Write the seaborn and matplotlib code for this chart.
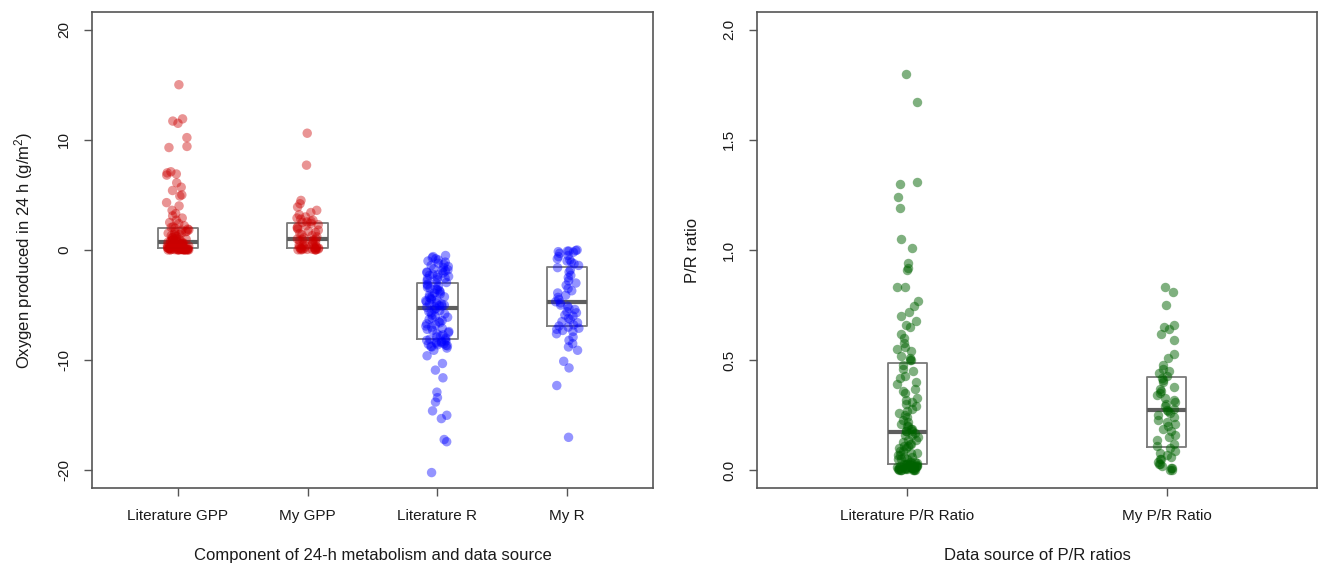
import numpy as np
import pandas as pd
import matplotlib
matplotlib.use("Agg")
import matplotlib.pyplot as plt
import seaborn as sns

# ---------------- data ----------------
components = ["Literature GPP", "My GPP", "Literature R", "My R"]
pr_sources = ["Literature P/R Ratio", "My P/R Ratio"]

lit_gpp = [15.0, 11.9, 11.7, 11.5, 10.2, 9.4, 9.3, 7.1, 7.0, 6.9, 6.8, 6.1, 5.7, 5.4,
           5.0, 4.9, 4.3, 4.0, 3.6, 3.3, 3.1, 2.9, 2.7, 2.5, 2.4, 2.2, 2.1,
           2.05, 1.97, 1.9, 1.83, 1.8, 1.71, 1.66, 1.6, 1.52, 1.5, 1.43, 1.38, 1.3, 1.27,
           1.2, 1.13, 1.1, 1.02, 0.98, 0.95, 0.9, 0.86, 0.83, 0.8, 0.77, 0.74, 0.71, 0.69,
           0.68, 0.66, 0.63, 0.6, 0.58, 0.55, 0.53, 0.5, 0.47, 0.45, 0.43, 0.4, 0.38, 0.36,
           0.33, 0.31, 0.3, 0.28, 0.26, 0.24, 0.22, 0.2, 0.19, 0.17, 0.16, 0.15, 0.14,
           0.14, 0.13, 0.12, 0.11, 0.1, 0.1, 0.09, 0.08, 0.08, 0.07, 0.06, 0.06, 0.05, 0.05,
           0.04, 0.04, 0.03, 0.03, 0.02, 0.02, 0.02, 0.01, 0.01, 0.01, 0.0, 0.0, 0.0, 0.0]
my_gpp = [10.6, 7.7, 4.5, 4.2, 3.9, 3.6, 3.4, 3.2, 3.0, 2.9, 2.8, 2.7, 2.6, 2.55, 2.5,
          2.4, 2.3, 2.2, 2.1, 2.0, 1.9, 1.8, 1.7, 1.6, 1.5, 1.4, 1.3, 1.2, 1.1, 1.0,
          1.0, 0.95, 0.9, 0.85, 0.8, 0.72, 0.65, 0.6, 0.52, 0.45, 0.4, 0.35, 0.3, 0.25, 0.2,
          0.2, 0.18, 0.16, 0.14, 0.12, 0.1, 0.09, 0.07, 0.06, 0.05, 0.04, 0.03, 0.02, 0.01, 0.0]
lit_r = [-0.5, -0.6, -0.7, -0.8, -0.9, -1.0, -1.1, -1.2, -1.3, -1.4, -1.5, -1.6, -1.7,
         -1.8, -1.85, -1.9, -2.0, -2.05, -2.1, -2.2, -2.25, -2.3, -2.4, -2.5, -2.55, -2.6,
         -2.7, -2.8, -2.95,
         -3.0, -3.1, -3.2, -3.3, -3.4, -3.5, -3.55, -3.6, -3.7, -3.8, -3.9, -4.0, -4.1,
         -4.2, -4.25, -4.3, -4.4, -4.5, -4.55, -4.6, -4.7, -4.8, -4.85, -4.9, -5.0, -5.05,
         -5.1, -5.15, -5.2,
         -5.3, -5.4, -5.5, -5.6, -5.7, -5.8, -5.9, -6.0, -6.1, -6.2, -6.3, -6.4, -6.5,
         -6.6, -6.7, -6.8, -6.9, -7.0, -7.1, -7.2, -7.3, -7.4, -7.5, -7.6, -7.7, -7.8,
         -7.9, -8.0, -8.1,
         -8.15, -8.2, -8.25, -8.3, -8.35, -8.4, -8.45, -8.5, -8.55, -8.6, -8.65, -8.7,
         -8.75, -8.8, -8.9,
         -9.1, -9.6, -10.3, -10.9, -11.6, -12.9, -13.4, -13.8, -14.6, -15.0, -15.3,
         -17.2, -17.4, -20.2]
my_r = [0.0, -0.05, -0.1, -0.1, -0.15, -0.2, -0.3, -0.5, -0.6, -0.8, -0.9, -1.0, -1.1,
        -1.25, -1.4,
        -1.6, -1.8, -2.0, -2.3, -2.5, -2.8, -3.0, -3.2, -3.5, -3.7, -3.9, -4.1, -4.3,
        -4.5, -4.7,
        -4.8, -5.0, -5.1, -5.3, -5.4, -5.6, -5.7, -5.9, -6.0, -6.2, -6.3, -6.5, -6.6,
        -6.8, -6.9,
        -7.0, -7.1, -7.2, -7.3, -7.4, -7.6, -7.9, -8.2, -8.5, -8.8, -9.1, -10.1, -10.7,
        -12.3, -17.0]

lit_pr = [1.80, 1.67, 1.31, 1.30, 1.24, 1.19, 1.05, 1.01, 0.94, 0.92, 0.91, 0.83, 0.83,
          0.77, 0.745, 0.72, 0.70, 0.68, 0.66, 0.65, 0.62, 0.60, 0.58, 0.56, 0.55, 0.54,
          0.52, 0.51, 0.50, 0.50,
          0.48, 0.46, 0.45, 0.43, 0.42, 0.40, 0.39, 0.37, 0.36, 0.35, 0.33, 0.32, 0.31,
          0.30, 0.29, 0.28, 0.27, 0.26, 0.25, 0.24, 0.23, 0.22, 0.21, 0.20, 0.20, 0.19,
          0.19, 0.18, 0.18, 0.18,
          0.17, 0.16, 0.16, 0.15, 0.14, 0.14, 0.13, 0.12, 0.12, 0.11, 0.11, 0.10, 0.10,
          0.09, 0.09, 0.08, 0.08, 0.07, 0.07, 0.06, 0.06, 0.05, 0.05, 0.05, 0.04, 0.04,
          0.04, 0.035, 0.03, 0.03,
          0.03, 0.028, 0.026, 0.025, 0.024, 0.022, 0.02, 0.02, 0.018, 0.017, 0.016, 0.015,
          0.014, 0.013, 0.012, 0.011, 0.01, 0.01, 0.009, 0.008, 0.007, 0.006, 0.005,
          0.004, 0.003, 0.002, 0.002, 0.001, 0.0, 0.0]
my_pr = [0.83, 0.81, 0.75, 0.66, 0.65, 0.64, 0.62, 0.59, 0.53, 0.51, 0.48, 0.46, 0.45,
         0.44, 0.43,
         0.42, 0.41, 0.40, 0.38, 0.37, 0.36, 0.35, 0.34, 0.33, 0.32, 0.31, 0.30, 0.29,
         0.28, 0.275,
         0.27, 0.26, 0.25, 0.24, 0.23, 0.22, 0.21, 0.20, 0.19, 0.18, 0.16, 0.15, 0.14,
         0.12, 0.11,
         0.10, 0.09, 0.08, 0.07, 0.06, 0.05, 0.05, 0.04, 0.03, 0.03, 0.02, 0.01, 0.01,
         0.0, 0.0]

y_ticks_left = [-20, -10, 0, 10, 20]
y_ticks_right = [0.0, 0.5, 1.0, 1.5, 2.0]
y_ticklabels_right = ["0.0", "0.5", "1.0", "1.5", "2.0"]

# ---------------- build tables ----------------
df1 = pd.DataFrame({
    "component": (["Literature GPP"] * len(lit_gpp) + ["My GPP"] * len(my_gpp)
                  + ["Literature R"] * len(lit_r) + ["My R"] * len(my_r)),
    "value": lit_gpp + my_gpp + lit_r + my_r,
})
df2 = pd.DataFrame({
    "source": ["Literature P/R Ratio"] * len(lit_pr) + ["My P/R Ratio"] * len(my_pr),
    "value": lit_pr + my_pr,
})

# ---------------- style ----------------
sns.set_theme(style="white")
plt.rcParams["font.family"] = ["Liberation Sans", "DejaVu Sans"]
plt.rcParams["mathtext.fontset"] = "custom"
plt.rcParams["mathtext.rm"] = "Liberation Sans"
plt.rcParams["mathtext.it"] = "Liberation Sans:italic"
plt.rcParams["font.size"] = 11

frame_col = "#555555"
text_col = "#1a1a1a"
box_col = "#7a7a7a"
median_col = "#5e5e5e"

fig = plt.figure(figsize=(13.18, 5.67), dpi=100)
ax1 = fig.add_axes([92 / 1318, 79 / 567, 561 / 1318, 476 / 567])
ax2 = fig.add_axes([757 / 1318, 79 / 567, 560 / 1318, 476 / 567])

np.random.seed(3)

pal1 = {"Literature GPP": (0.80, 0.0, 0.0), "My GPP": (0.80, 0.0, 0.0),
        "Literature R": (0.0, 0.0, 1.0), "My R": (0.0, 0.0, 1.0)}

box_kw = dict(fill=False, color=box_col, linewidth=1.3, whis=0, showcaps=False,
              showfliers=False,
              medianprops=dict(linewidth=3.0, color=median_col),
              whiskerprops=dict(linewidth=0))

sns.boxplot(data=df1, x="component", y="value", order=components, width=0.31,
            ax=ax1, **box_kw)
sns.stripplot(data=df1, x="component", y="value", order=components, hue="component",
              palette=pal1, jitter=0.09, size=6.8, alpha=0.42, linewidth=0,
              legend=False, ax=ax1, zorder=3)

sns.boxplot(data=df2, x="source", y="value", order=pr_sources, width=0.15,
            ax=ax2, **box_kw)
sns.stripplot(data=df2, x="source", y="value", order=pr_sources, color=(0.0, 0.39, 0.0),
              jitter=0.04, size=6.8, alpha=0.5, linewidth=0, ax=ax2, zorder=3)

# ---------------- axes cosmetics ----------------
ax1.set_xlim(-0.66, 3.66)
ax1.set_ylim(-21.6, 21.6)
ax1.set_yticks(y_ticks_left)
ax1.set_yticklabels([str(t) for t in y_ticks_left])
ax1.set_xlabel("Component of 24-h metabolism and data source", color=text_col, labelpad=18)
ax1.set_ylabel("Oxygen produced in 24 h (g/m$^{2}$)", color=text_col, labelpad=16)

ax2.set_xlim(-0.58, 1.58)
ax2.set_ylim(-0.08, 2.08)
ax2.set_yticks(y_ticks_right)
ax2.set_yticklabels(y_ticklabels_right)
ax2.set_xlabel("Data source of P/R ratios", color=text_col, labelpad=18)
ax2.set_ylabel("P/R ratio", color=text_col, labelpad=16)

for ax in (ax1, ax2):
    for s in ax.spines.values():
        s.set_visible(True)
        s.set_color(frame_col)
        s.set_linewidth(1.2)
    ax.tick_params(axis="both", direction="out", length=6, width=1.0, color=frame_col,
                   labelcolor=text_col, labelsize=11, pad=9, left=True, bottom=True)
    for lab in ax.get_yticklabels():
        lab.set_rotation(90)
        lab.set_va("center")

fig.savefig("out.png", dpi=100)
